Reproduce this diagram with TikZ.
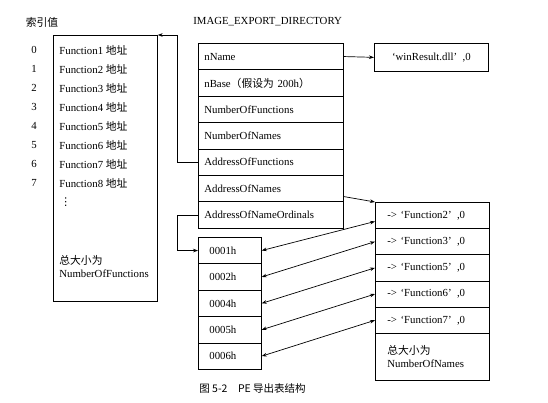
\documentclass[tikz,border=0pt]{standalone}
\usepackage{fontspec}
\setmainfont{Liberation Serif}
\newfontfamily\cjk{Noto Sans CJK SC}
\newfontfamily\dv{DejaVu Sans}
\usetikzlibrary{arrows.meta,calc}
\begin{document}
\begin{tikzpicture}[x=1pt,y=-1pt,
  font=\fontsize{10.8}{13}\selectfont,
  line width=0.7pt,
  box/.style={draw, inner ysep=0pt, minimum height=26.4pt, anchor=north west, align=left},
  mrow/.style={box, text width=133pt, inner xsep=6pt},
  orow/.style={box, text width=41pt, inner xsep=11pt},
  nrow/.style={box, text width=90pt, inner xsep=12pt, minimum height=26.2pt},
  lbl/.style={anchor=west, inner sep=0pt},
  tip/.style={-{Stealth[length=5pt,width=3.6pt]}},
  dtip/.style={{Stealth[length=5pt,width=3.6pt]}-{Stealth[length=5pt,width=3.6pt]}}]
\useasboundingbox (0,0) rectangle (548,403);

% titles
\node (tidx) at (42,22) {\cjk 索引值};
\node[lbl] (tdir) at (193,22) {IMAGE\_EXPORT\_DIRECTORY};

% left function table
\node[draw, anchor=north west, minimum width=104pt, minimum height=266pt, inner sep=0pt] (ftab) at (53,35) {};
\foreach \k/\n in {0/1,1/2,2/3,3/4,4/5,5/6,6/7,7/8}{
  \node (i\k) at (34,{50+19*\k}) {\k};
  \node[lbl] (f\n) at (59,{50+19*\k}) {Function\n\ {\cjk 地址}};
}
\node[lbl] (fdots) at (60,202) {\dv ⋮};
\node[lbl, align=left] (ftot) at (59,267) {{\cjk 总大小为}\\NumberOfFunctions};

% IMAGE_EXPORT_DIRECTORY rows
\node[mrow] (r1) at (198,43.0) {nName};
\node[mrow] (r2) at (198,69.4) {nBase{\cjk （假设为} 200h{\cjk ）}};
\node[mrow] (r3) at (198,95.8) {NumberOfFunctions};
\node[mrow] (r4) at (198,122.2) {NumberOfNames};
\node[mrow] (r5) at (198,148.6) {AddressOfFunctions};
\node[mrow] (r6) at (198,175.0) {AddressOfNames};
\node[mrow] (r7) at (198,201.4) {AddressOfNameOrdinals};

% dll name
\node[draw, anchor=north west, minimum width=114pt, minimum height=28pt, inner sep=0pt] (win) at (374,43) {‘winResult.dll’\enspace,0};

% ordinals
\node[orow] (o1) at (198,237.0) {0001h};
\node[orow] (o2) at (198,263.4) {0002h};
\node[orow] (o3) at (198,289.8) {0004h};
\node[orow] (o4) at (198,316.2) {0005h};
\node[orow] (o5) at (198,342.6) {0006h};

% names
\node[nrow] (n1) at (375,202.0) {-> ‘Function2’\enspace,0};
\node[nrow] (n2) at (375,228.2) {-> ‘Function3’\enspace,0};
\node[nrow] (n3) at (375,254.4) {-> ‘Function5’\enspace,0};
\node[nrow] (n4) at (375,280.6) {-> ‘Function6’\enspace,0};
\node[nrow] (n5) at (375,306.8) {-> ‘Function7’\enspace,0};
\node[nrow, minimum height=47pt] (n6) at (375,333.0) {{\cjk 总大小为}\\NumberOfNames};

% connectors
\coordinate (c1) at (177,0);
\draw[tip] (r5.west) -- (r5.west -| c1) |- (ftab.north east);
\draw[tip] (r1.east) -- (win.west);
\draw[tip] (r7.west) -- (r7.west -| c1) |- (o1.west);
\draw[tip] ([yshift=-8pt]r6.east) -- (n1.north west);
\draw[dtip] (o1.east) -- ([yshift=-6pt]n1.west);
\draw[dtip] (o2.east) -- (n2.west);
\draw[dtip] (o3.east) -- (n3.west);
\draw[dtip] (o4.east) -- (n4.west);
\draw[dtip] (o5.east) -- (n5.west);

% caption
\node[lbl] (cap) at (199,389) {\cjk\fontsize{10.5}{12}\selectfont 图 5-2\quad PE 导出表结构};
\end{tikzpicture}
\end{document}
